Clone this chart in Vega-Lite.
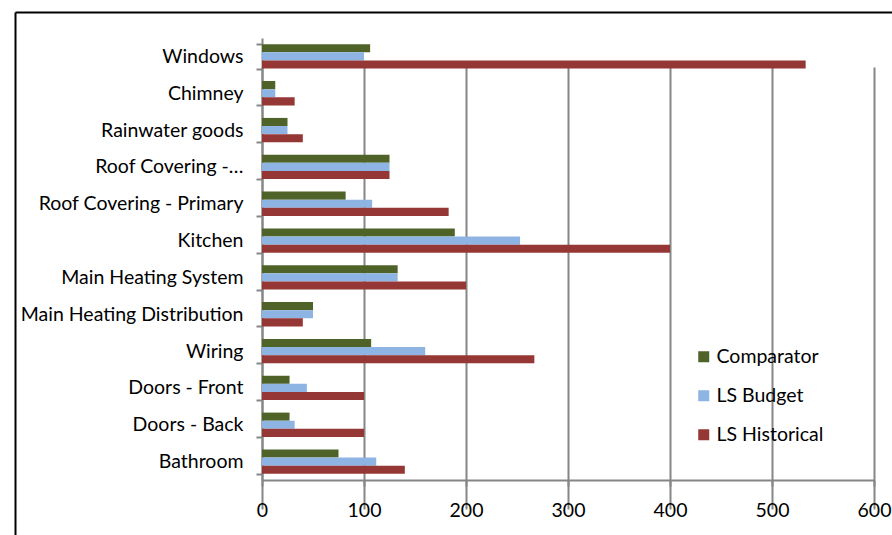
{
  "$schema": "https://vega.github.io/schema/vega-lite/v6.json",
  "width": 877,
  "height": 523,
  "autosize": {"type": "none"},
  "padding": {"left": 15, "top": 12, "right": 0, "bottom": 0},
  "background": "white",
  "config": {
    "view": {"stroke": null},
    "font": "Lato",
    "axis": {"labelFont": "Lato", "labelFontSize": 19.5, "labelColor": "#000000"},
    "legend": {"labelFont": "Lato", "labelFontSize": 19.5, "labelColor": "#000000"}
  },
  "data": {
    "values": [
      {"item": "Windows", "series": "Comparator", "value": 106},
      {"item": "Windows", "series": "LS Budget", "value": 100},
      {"item": "Windows", "series": "LS Historical", "value": 533},
      {"item": "Chimney", "series": "Comparator", "value": 13},
      {"item": "Chimney", "series": "LS Budget", "value": 13},
      {"item": "Chimney", "series": "LS Historical", "value": 32},
      {"item": "Rainwater goods", "series": "Comparator", "value": 25},
      {"item": "Rainwater goods", "series": "LS Budget", "value": 25},
      {"item": "Rainwater goods", "series": "LS Historical", "value": 40},
      {"item": "Roof Covering -…", "series": "Comparator", "value": 125},
      {"item": "Roof Covering -…", "series": "LS Budget", "value": 125},
      {"item": "Roof Covering -…", "series": "LS Historical", "value": 125},
      {"item": "Roof Covering - Primary", "series": "Comparator", "value": 82},
      {"item": "Roof Covering - Primary", "series": "LS Budget", "value": 108},
      {"item": "Roof Covering - Primary", "series": "LS Historical", "value": 183},
      {"item": "Kitchen", "series": "Comparator", "value": 189},
      {"item": "Kitchen", "series": "LS Budget", "value": 253},
      {"item": "Kitchen", "series": "LS Historical", "value": 400},
      {"item": "Main Heating System", "series": "Comparator", "value": 133},
      {"item": "Main Heating System", "series": "LS Budget", "value": 133},
      {"item": "Main Heating System", "series": "LS Historical", "value": 200},
      {"item": "Main Heating Distribution", "series": "Comparator", "value": 50},
      {"item": "Main Heating Distribution", "series": "LS Budget", "value": 50},
      {"item": "Main Heating Distribution", "series": "LS Historical", "value": 40},
      {"item": "Wiring", "series": "Comparator", "value": 107},
      {"item": "Wiring", "series": "LS Budget", "value": 160},
      {"item": "Wiring", "series": "LS Historical", "value": 267},
      {"item": "Doors - Front", "series": "Comparator", "value": 27},
      {"item": "Doors - Front", "series": "LS Budget", "value": 44},
      {"item": "Doors - Front", "series": "LS Historical", "value": 100},
      {"item": "Doors - Back", "series": "Comparator", "value": 27},
      {"item": "Doors - Back", "series": "LS Budget", "value": 32},
      {"item": "Doors - Back", "series": "LS Historical", "value": 100},
      {"item": "Bathroom", "series": "Comparator", "value": 75},
      {"item": "Bathroom", "series": "LS Budget", "value": 112},
      {"item": "Bathroom", "series": "LS Historical", "value": 140}
    ]
  },
  "layer": [
    {
      "mark": {"type": "bar"},
      "encoding": {
        "y": {
          "field": "item",
          "type": "nominal",
          "sort": ["Windows", "Chimney", "Rainwater goods", "Roof Covering -…", "Roof Covering - Primary", "Kitchen", "Main Heating System", "Main Heating Distribution", "Wiring", "Doors - Front", "Doors - Back", "Bathroom"],
          "scale": {"range": [26, 468], "paddingInner": 0.34, "paddingOuter": 0.17},
          "axis": {
            "title": null,
            "offset": -247,
            "tickBand": "extent",
            "domainColor": "#868686",
            "domainWidth": 2,
            "tickColor": "#868686",
            "tickWidth": 2,
            "tickSize": 6,
            "labelPadding": 13,
            "labelLimit": 400,
            "grid": false
          }
        },
        "x": {
          "field": "value",
          "type": "quantitative",
          "scale": {"domain": [0, 600], "range": [247, 859], "nice": false, "zero": true},
          "axis": {
            "title": null,
            "values": [0, 100, 200, 300, 400, 500, 600],
            "offset": -55,
            "grid": true,
            "gridColor": "#868686",
            "gridWidth": 2,
            "domainColor": "#868686",
            "domainWidth": 2,
            "tickColor": "#868686",
            "tickWidth": 2,
            "tickSize": 6,
            "labelPadding": 15,
            "labelFlush": false
          }
        },
        "yOffset": {
          "field": "series",
          "type": "nominal",
          "sort": ["Comparator", "LS Budget", "LS Historical"],
          "scale": {"paddingInner": 0, "paddingOuter": 0}
        },
        "color": {
          "field": "series",
          "type": "nominal",
          "sort": ["Comparator", "LS Budget", "LS Historical"],
          "scale": {"domain": ["Comparator", "LS Budget", "LS Historical"], "range": ["#4F6228", "#8EB4E3", "#953735"]},
          "legend": {
            "title": null,
            "orient": "none",
            "legendX": 679,
            "legendY": 335,
            "symbolType": "square",
            "symbolSize": 121,
            "symbolStrokeWidth": 0,
            "rowPadding": 18,
            "labelOffset": 3
          }
        }
      }
    },
    {
      "mark": {"type": "point", "opacity": 0},
      "encoding": {
        "x": {
          "field": "value",
          "type": "quantitative",
          "scale": {"domain": [0, 1000], "range": [0, 877], "nice": false},
          "axis": {"orient": "top", "title": null, "domain": true, "domainColor": "#000000", "domainWidth": 2, "ticks": false, "labels": false, "grid": false}
        },
        "y": {
          "field": "value",
          "type": "quantitative",
          "scale": {"domain": [0, 1000], "range": [0, 523], "nice": false},
          "axis": {"orient": "left", "title": null, "domain": true, "domainColor": "#000000", "domainWidth": 2, "ticks": false, "labels": false, "grid": false}
        }
      }
    }
  ],
  "resolve": {
    "scale": {"x": "independent", "y": "independent", "color": "independent"},
    "axis": {"x": "independent", "y": "independent"}
  }
}
